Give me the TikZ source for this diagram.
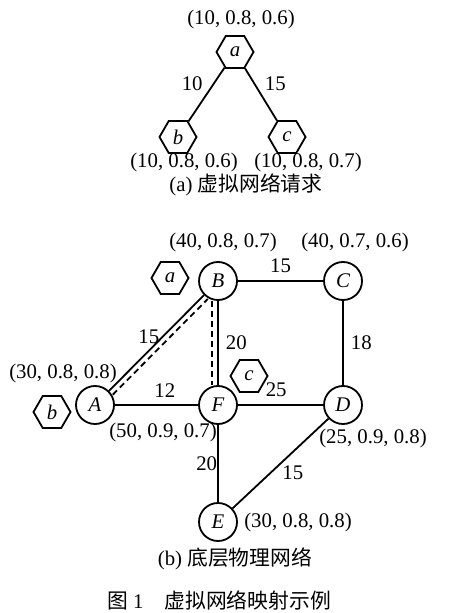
\documentclass[tikz,border=0pt]{standalone}
\usepackage{fontspec}
\setmainfont{Liberation Serif}
\newfontfamily\cjk{Noto Sans CJK SC}
\usetikzlibrary{shapes}

\begin{document}
\begin{tikzpicture}
[x=0.5pt,y=-0.5pt,line width=0.9pt,font=\fontsize{10.4}{12.5}\selectfont]
\tikzstyle{vnode}=[regular polygon,regular polygon sides=6,draw,minimum size=18.5pt,inner sep=0pt,font=\fontsize{10.4}{12.5}\selectfont\itshape]
\tikzstyle{pnode}=[circle,draw,minimum size=19pt,inner sep=0pt,font=\fontsize{10.4}{12.5}\selectfont\itshape]
\tikzstyle{wt}=[inner sep=1.5pt]
\tikzstyle{res}=[inner sep=0pt]
\tikzstyle{mapped}=[dash pattern=on 3pt off 2pt]
\useasboundingbox (0,0) rectangle (456,613);
\node[vnode] (a) at (235,52) {a};
\node[vnode] (b) at (178,137) {b};
\node[vnode] (c) at (287,137) {c};
\draw (a) -- node[wt,above left]{10} (b);
\draw (a) -- node[wt,above right]{15} (c);
\node[res] (ra) at (241,20) {(10, 0.8, 0.6)};
\node[res] (rb) at (184,163) {(10, 0.8, 0.6)};
\node[res] (rc) at (308,163) {(10, 0.8, 0.7)};
\node (capa) at (246,185) {(a) {\cjk 虚拟网络请求}};
\node[pnode] (A) at (95,405) {A};
\node[pnode] (B) at (218,281) {B};
\node[pnode] (C) at (343,281) {C};
\node[pnode] (D) at (343,405) {D};
\node[pnode] (E) at (218,522) {E};
\node[pnode] (F) at (218,405) {F};
\node[vnode] (ma) at (170,278) {a};
\node[vnode] (mb) at (52,412) {b};
\node[vnode] (mc) at (249,376) {c};
\draw (B) -- node[wt,above=2pt]{15} (C);
\draw (C) -- node[wt,right=2pt]{18} (D);
\draw (B) -- node[wt,right=2pt]{20} (F);
\draw (A) -- node[wt,pos=0.57,left]{15} (B);
\draw (A) -- node[wt,pos=0.6,above=2pt]{12} (F);
\draw (F) -- node[wt,pos=0.45,above=2pt]{25} (D);
\draw (F) -- node[wt,left,inner sep=0pt]{20} (E);
\draw (D) -- node[wt,below right,inner sep=0.5pt]{15} (E);
\draw[mapped,transform canvas={shift={(1.9pt,-1.9pt)}}] (A) -- (B);
\draw[mapped,transform canvas={xshift=-3pt}] (B) -- (F);
\node[res] (rB) at (223,243) {(40, 0.8, 0.7)};
\node[res] (rC) at (355,243) {(40, 0.7, 0.6)};
\node[res] (rA) at (63,373) {(30, 0.8, 0.8)};
\node[res] (rF) at (163,432) {(50, 0.9, 0.7)};
\node[res] (rD) at (373,438) {(25, 0.9, 0.8)};
\node[res] (rE) at (298,522) {(30, 0.8, 0.8)};
\node (capb) at (235,559) {(b) {\cjk 底层物理网络}};
\node (fig) at (219,600) {{\cjk 图} 1\hspace{1em}{\cjk 虚拟网络映射示例}};
\end{tikzpicture}
\end{document}
